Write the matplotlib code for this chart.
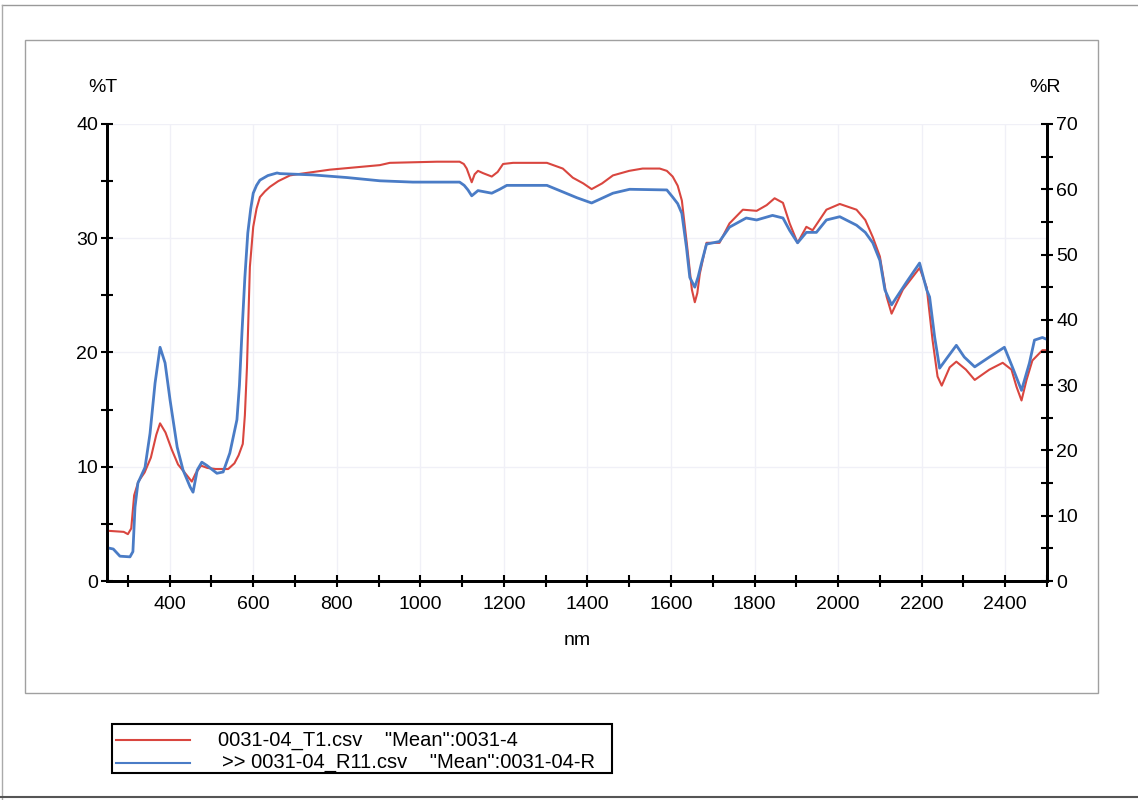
import matplotlib
matplotlib.use("Agg")
import matplotlib.pyplot as plt
from matplotlib.patches import Rectangle
from matplotlib.lines import Line2D
import numpy as np

plt.rcParams['font.family'] = ['Liberation Sans', 'DejaVu Sans']

# %T curve (left axis)
wl_t = [250, 290, 300, 308, 315, 325, 340, 355, 368, 377, 390, 405, 420, 440, 453,
        462, 475, 490, 510, 540, 555, 565, 575, 580, 585, 592, 600, 608, 616, 628, 640,
        660, 688, 705, 783, 903, 927, 1040, 1094, 1104, 1111, 1123, 1130, 1138, 1150, 1171,
        1185, 1198, 1222, 1303, 1341, 1365, 1390, 1410, 1435, 1461, 1500, 1532, 1573, 1590,
        1604, 1616, 1626, 1638, 1650, 1657, 1663, 1669, 1685, 1716, 1740, 1772, 1805, 1829,
        1848, 1868, 1884, 1903, 1924, 1939, 1972, 2004, 2044, 2065, 2083, 2100, 2116, 2128,
        2155, 2195, 2212, 2226, 2238, 2248, 2267, 2283, 2306, 2327, 2362, 2394, 2415, 2427,
        2439, 2451, 2465, 2489, 2500]
trans = [4.4, 4.3, 4.1, 4.6, 7.5, 8.7, 9.5, 10.8, 12.8, 13.8, 13.0, 11.5, 10.2, 9.3, 8.7,
         9.4, 10.1, 9.9, 9.8, 9.8, 10.3, 11.0, 12.0, 14.5, 18.7, 27.5, 31.0, 32.6, 33.6, 34.1, 34.5,
         35.0, 35.5, 35.6, 36.0, 36.4, 36.6, 36.7, 36.7, 36.5, 36.1, 34.9, 35.6, 35.9, 35.7, 35.4,
         35.8, 36.5, 36.6, 36.6, 36.1, 35.3, 34.8, 34.3, 34.8, 35.5, 35.9, 36.1, 36.1, 35.9,
         35.4, 34.6, 33.3, 29.5, 25.5, 24.4, 25.2, 26.9, 29.6, 29.6, 31.3, 32.5, 32.4, 32.9,
         33.5, 33.1, 31.3, 29.6, 31.0, 30.7, 32.5, 33.0, 32.5, 31.6, 30.1, 28.4, 24.9, 23.4,
         25.5, 27.4, 25.7, 21.1, 17.9, 17.1, 18.7, 19.2, 18.5, 17.6, 18.5, 19.1, 18.5, 17.0,
         15.8, 17.6, 19.3, 20.2, 20.2]

# %R curve (right axis)
wl_r = [250, 265, 281, 305, 312, 317, 324, 341, 353, 365, 377, 389, 401, 418, 432,
        449, 456, 466, 477, 489, 513, 528, 544, 561, 567, 573, 580, 587, 594, 600, 608, 616,
        635, 657, 664, 743, 824, 903, 982, 1094, 1105, 1114, 1123, 1138, 1171, 1190, 1207,
        1303, 1341, 1375, 1410, 1461, 1501, 1590, 1604, 1616, 1626, 1637, 1645, 1657, 1665,
        1673, 1685, 1716, 1740, 1780, 1805, 1843, 1868, 1884, 1903, 1924, 1948, 1972, 2004,
        2044, 2065, 2083, 2100, 2112, 2128, 2164, 2195, 2212, 2219, 2231, 2243, 2260, 2283,
        2302, 2327, 2362, 2398, 2417, 2439, 2458, 2470, 2489, 2500]
refl = [5.1, 4.9, 3.8, 3.7, 4.5, 11.3, 15.0, 17.4, 22.6, 30.3, 35.8, 33.4, 27.7, 20.5, 17.0,
        14.4, 13.6, 17.0, 18.2, 17.7, 16.5, 16.7, 19.6, 24.7, 30.0, 38.0, 46.5, 53.3, 57.0, 59.4,
        60.6, 61.4, 62.1, 62.5, 62.4, 62.2, 61.8, 61.3, 61.1, 61.1, 60.6, 59.9, 59.0, 59.8,
        59.4, 60.0, 60.6, 60.6, 59.6, 58.7, 57.9, 59.4, 60.0, 59.9, 58.8, 57.8, 56.3, 51.1,
        46.5, 45.0, 46.6, 48.7, 51.6, 52.0, 54.2, 55.6, 55.3, 56.0, 55.6, 53.7, 51.8, 53.4,
        53.4, 55.3, 55.8, 54.5, 53.4, 51.8, 49.1, 44.6, 42.3, 45.8, 48.7, 44.6, 43.5, 37.4,
        32.6, 34.1, 36.1, 34.3, 32.8, 34.3, 35.8, 32.8, 29.2, 33.4, 36.9, 37.3, 37.0]

legend_labels = ['0031-04_T1.csv    "Mean":0031-4',
                 '>> 0031-04_R11.csv    "Mean":0031-04-R']

red = '#d9463f'
blue = '#4a7cc6'

W, H = 1138, 800
fig = plt.figure(figsize=(W / 100, H / 100), dpi=100)

# page border and chart frame
fig.add_artist(Line2D([2 / W, 1], [1 - 5 / H, 1 - 5 / H], color='#999999', lw=1))
fig.add_artist(Line2D([2 / W, 2 / W], [0, 1 - 5 / H], color='#aaaaaa', lw=1))
fig.add_artist(Line2D([0, 1], [3 / H, 3 / H], color='#555555', lw=1.5))
fig.add_artist(Rectangle((25 / W, 1 - 693 / H), (1098 - 25) / W, (693 - 40) / H,
                         transform=fig.transFigure, fill=False, ec='#a0a0a0', lw=1))

ax = fig.add_axes([107 / W, 1 - 581 / H, (1047 - 107) / W, (581 - 124) / H])
ax2 = ax.twinx()

ax.plot(wl_t, trans, color=red, lw=1.5, zorder=3)
ax2.plot(wl_r, refl, color=blue, lw=2.0, zorder=2)

ax.set_xlim(250, 2500)
ax.set_ylim(0, 40)
ax2.set_ylim(0, 70)

ax.set_xticks(np.arange(400, 2401, 200))
ax.set_xticks(np.arange(300, 2501, 100), minor=True)
ax.set_yticks(np.arange(0, 41, 10))
ax.set_yticks(np.arange(0, 41, 5), minor=True)
ax2.set_yticks(np.arange(0, 71, 10))
ax2.set_yticks(np.arange(0, 71, 5), minor=True)

for a in (ax, ax2):
    a.spines['top'].set_visible(False)
    for s in ('left', 'right', 'bottom'):
        a.spines[s].set_linewidth(2)
        a.spines[s].set_color('black')
    a.set_facecolor('none')
    a.tick_params(which='both', direction='inout', length=9, width=1.5,
                  labelsize=14, colors='black', pad=2)

ax.grid(True, which='major', color='#f0f0f7', lw=1)
ax.tick_params(axis='x', pad=6)

ax.set_xlabel('nm', fontsize=14, labelpad=14)
fig.text(103 / W, 1 - 87 / H, '%T', fontsize=14, ha='center', va='center')
fig.text(1045 / W, 1 - 87 / H, '%R', fontsize=14, ha='center', va='center')

# legend box
fig.add_artist(Rectangle((112 / W, 1 - 773 / H), (612 - 112) / W, (773 - 724) / H,
                         transform=fig.transFigure, fill=False, ec='black', lw=1.5))
fig.add_artist(Line2D([116 / W, 190 / W], [1 - 740 / H, 1 - 740 / H], color=red, lw=1.5))
fig.add_artist(Line2D([116 / W, 190 / W], [1 - 763 / H, 1 - 763 / H], color=blue, lw=1.5))
fig.text(218 / W, 1 - 740 / H, legend_labels[0], fontsize=14.5, va='center', ha='left')
fig.text(222 / W, 1 - 763 / H, legend_labels[1], fontsize=14.5, va='center', ha='left')

fig.savefig('out.png', dpi=100)
